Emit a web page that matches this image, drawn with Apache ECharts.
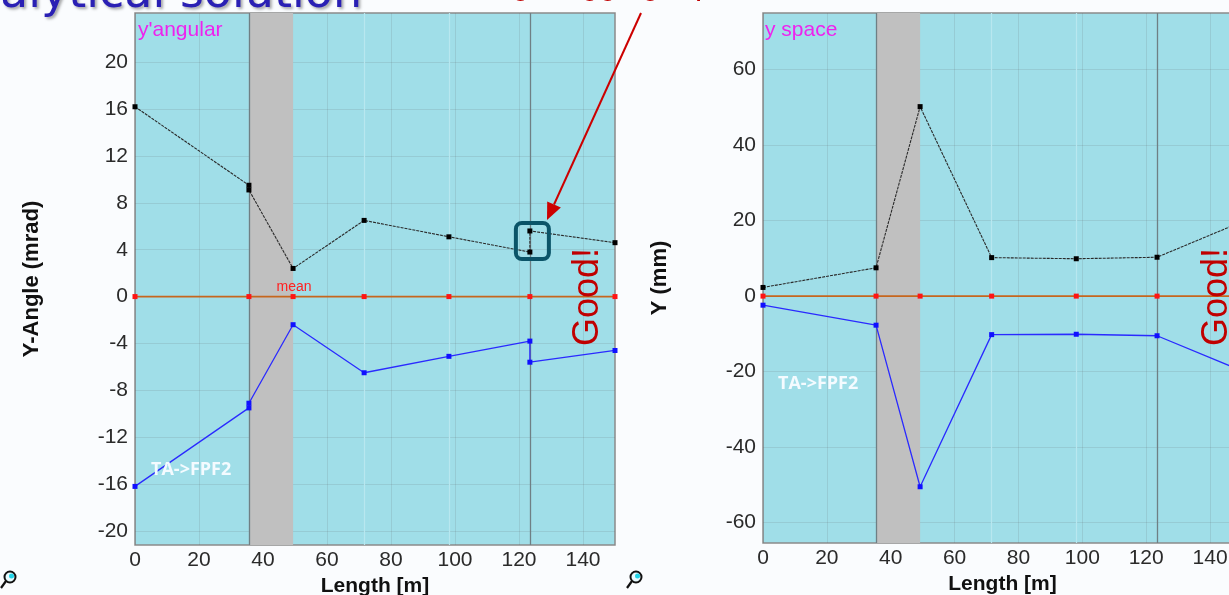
<!DOCTYPE html>
<html>
<head>
<meta charset="utf-8">
<script src="https://cdn.jsdelivr.net/npm/echarts@6/dist/echarts.min.js"></script>
<style>
html, body { margin: 0; padding: 0; background: #fafcfe; }
#main { width: 1229px; height: 595px; }
</style>
</head>
<body>
<div id="main"></div>
<script>
// y'angular panel, mrad
var angPos = [0, 35.6, 35.6, 49.4, 71.6, 98.1, 123.4, 123.4, 150];
var angTop = [16.2, 9.5, 9.1, 2.4, 6.5, 5.1, 3.8, 5.6, 4.6];
var angBot = [-16.2, -9.5, -9.1, -2.4, -6.5, -5.1, -3.8, -5.6, -4.6];
var angElem = [0, 35.6, 49.4, 71.6, 98.1, 123.4, 150];
var angMean = [0, 0, 0, 0, 0, 0, 0];
var angTicks = [-20, -16, -12, -8, -4, 0, 4, 8, 12, 16, 20];

// y space panel, mm
var spPos = [0, 35.4, 49.2, 71.6, 98.1, 123.4, 150];
var spTop = [2.3, 7.5, 50.2, 10.2, 9.9, 10.3, 19.7];
var spBot = [-2.4, -7.7, -50.5, -10.2, -10.1, -10.5, -19.8];
var spMean = [0, 0, 0, 0, 0, 0, 0];
var spTicks = [-60, -40, -20, 0, 20, 40, 60];

var lenTicks = [0, 20, 40, 60, 80, 100, 120, 140];
var dipoleL = [35.6, 49.4], dipoleR = [35.4, 49.2];
var exitPos = 123.4;
var lightPos = [71.6, 98.1];

function pairs(xs, ys) {
  return xs.map(function (x, i) { return [x, ys[i]]; });
}

var tickFont = { fontFamily: 'Liberation Sans Narrow, Liberation Sans, Arial, sans-serif', fontSize: 21, color: '#2a2a2a' };
var nameFont = { fontFamily: 'Liberation Sans, Arial, sans-serif', fontSize: 21, fontWeight: 'bold', color: '#111' };
var gridLine = { show: true, lineStyle: { color: 'rgba(90,90,90,0.14)', width: 1 } };

function xAx(idx) {
  return {
    type: 'value', gridIndex: idx, min: 0, max: 150,
    name: 'Length [m]', nameLocation: 'middle', nameGap: 26, nameTextStyle: nameFont,
    axisLine: { show: false },
    axisTick: { show: false, customValues: lenTicks },
    axisLabel: Object.assign({ customValues: lenTicks, margin: 5 }, tickFont),
    splitLine: gridLine
  };
}
function yAx(idx, min, max, ticks, name) {
  return {
    type: 'value', gridIndex: idx, min: min, max: max,
    name: name, nameLocation: 'middle', nameGap: 92,
    nameTextStyle: Object.assign({}, nameFont, { fontSize: 22 }),
    axisLine: { show: false },
    axisTick: { show: false, customValues: ticks },
    axisLabel: Object.assign({ customValues: ticks, margin: 7 }, tickFont),
    splitLine: gridLine
  };
}

function vLines(band) {
  var dark = { color: '#6f7f84', width: 1.3, type: 'solid' };
  var light = { color: '#b8e7ef', width: 1.2, type: 'solid' };
  return [
    { xAxis: band[0], lineStyle: dark },
    { xAxis: exitPos, lineStyle: dark },
    { xAxis: lightPos[0], lineStyle: light },
    { xAxis: lightPos[1], lineStyle: light }
  ];
}

function panel(idx, pos, top, bot, elem, mean, band) {
  return [
    {
      type: 'line', xAxisIndex: idx, yAxisIndex: idx, data: pairs(elem, mean),
      symbol: 'rect', symbolSize: 5, itemStyle: { color: '#ff1414' },
      lineStyle: { color: '#c6661e', width: 1.6 }, z: 5, silent: true,
      markArea: { silent: true, z: 1, itemStyle: { color: '#c0c0c0', opacity: 1 },
                  data: [[{ xAxis: band[0] }, { xAxis: band[1] }]] },
      markLine: { silent: true, z: 2, symbol: 'none', label: { show: false }, data: vLines(band) }
    },
    {
      type: 'line', xAxisIndex: idx, yAxisIndex: idx, data: pairs(pos, top),
      symbol: 'rect', symbolSize: 5, itemStyle: { color: '#000' },
      lineStyle: { color: '#2a2a2a', width: 1.1, type: [3, 1] }, z: 6, silent: true
    },
    {
      type: 'line', xAxisIndex: idx, yAxisIndex: idx, data: pairs(pos, bot),
      symbol: 'rect', symbolSize: 5, itemStyle: { color: '#1010ff' },
      lineStyle: { color: '#2a2aff', width: 1.3 }, z: 6, silent: true
    }
  ];
}

var chart = echarts.init(document.getElementById('main'));
var gridBase = { show: true, backgroundColor: '#a0dee8', borderColor: '#8a8a8a', borderWidth: 1.5,
                 containLabel: false, outerBoundsMode: 'none' };

chart.setOption({
  animation: false,
  grid: [
    Object.assign({ left: 135, top: 13, width: 480, height: 532 }, gridBase),
    Object.assign({ left: 763, top: 13, width: 479, height: 530 }, gridBase)
  ],
  xAxis: [xAx(0), xAx(1)],
  yAxis: [
    yAx(0, -21.2, 24.2, angTicks, 'Y-Angle (mrad)'),
    yAx(1, -65.4, 75, spTicks, 'Y (mm)')
  ],
  series: panel(0, angPos, angTop, angBot, angElem, angMean, dipoleL)
    .concat(panel(1, spPos, spTop, spBot, spPos, spMean, dipoleR))
});

// box around the jump at the exit point
var pA = chart.convertToPixel({ gridIndex: 0 }, [exitPos, angTop[7]]);
var pB = chart.convertToPixel({ gridIndex: 0 }, [exitPos, angTop[6]]);
var boxX = pA[0] - 14, boxY = pA[1] - 8, boxW = 33, boxH = (pB[1] - pA[1]) + 15;

var tip = [547, 220], tail = [641, 13];
var dx = tip[0] - tail[0], dy = tip[1] - tail[1], len = Math.sqrt(dx * dx + dy * dy);
var ux = dx / len, uy = dy / len, hl = 17, hw = 7.5;
var base = [tip[0] - ux * hl, tip[1] - uy * hl];

function magnifier(cx, cy) {
  return {
    type: 'group', silent: true, z: 50, children: [
      { type: 'line', shape: { x1: cx - 4, y1: cy + 4, x2: cx - 9, y2: cy + 11 }, style: { stroke: '#111', lineWidth: 2.2 } },
      { type: 'circle', shape: { cx: cx, cy: cy, r: 5.5 }, style: { fill: '#e9fbff', stroke: '#111', lineWidth: 2 } },
      { type: 'circle', shape: { cx: cx + 1.5, cy: cy - 1, r: 2.5 }, style: { fill: '#22d4e8' } }
    ]
  };
}

function label(x, y, text, fill, font, extra) {
  return {
    type: 'text', x: x, y: y, z: 50, silent: true,
    style: Object.assign({ text: text, fill: fill, font: font, verticalAlign: 'middle' }, extra || {})
  };
}

var graphics = [
  label(0, -5, 'alytical solution', '#2a20b4', '46px DejaVu Sans, sans-serif',
        { textShadowColor: 'rgba(0,0,0,0.35)', textShadowBlur: 3, textShadowOffsetX: 2, textShadowOffsetY: 2 }),
  label(341, -14.5, 'Kick is wrong, flagging a problem', '#c00000', '32px Liberation Sans, Arial, sans-serif'),
  label(138, 30, "y'angular", '#ee22ee', '21px Liberation Sans, Arial, sans-serif'),
  label(765, 30, 'y space', '#ee22ee', '21px Liberation Sans, Arial, sans-serif'),
  label(294, 287, 'mean', '#ff2020', '14px Liberation Sans, Arial, sans-serif', { align: 'center' }),
  label(151, 470, 'TA->FPF2', '#f4fbff', 'bold 18px Open Sans, Liberation Sans, sans-serif'),
  label(778, 384, 'TA->FPF2', '#f4fbff', 'bold 18px Open Sans, Liberation Sans, sans-serif'),
  { type: 'rect', silent: true, z: 50, shape: { x: boxX, y: boxY, width: boxW, height: boxH, r: 6 },
    style: { fill: 'none', stroke: '#0b5468', lineWidth: 4 } },
  { type: 'line', silent: true, z: 50, shape: { x1: tail[0], y1: tail[1], x2: base[0], y2: base[1] },
    style: { stroke: '#cc0000', lineWidth: 2 } },
  { type: 'polygon', silent: true, z: 50,
    shape: { points: [tip, [base[0] - uy * hw, base[1] + ux * hw], [base[0] + uy * hw, base[1] - ux * hw]] },
    style: { fill: '#cc0000' } },
  magnifier(10, 577),
  magnifier(636, 577)
];
[588, 1217].forEach(function (gx) {
  var g = label(gx, 297, 'Good!', '#c00000', '36px Liberation Sans, Arial, sans-serif', { align: 'center' });
  g.rotation = Math.PI / 2;
  graphics.push(g);
});

chart.setOption({ graphic: graphics });
</script>
</body>
</html>
